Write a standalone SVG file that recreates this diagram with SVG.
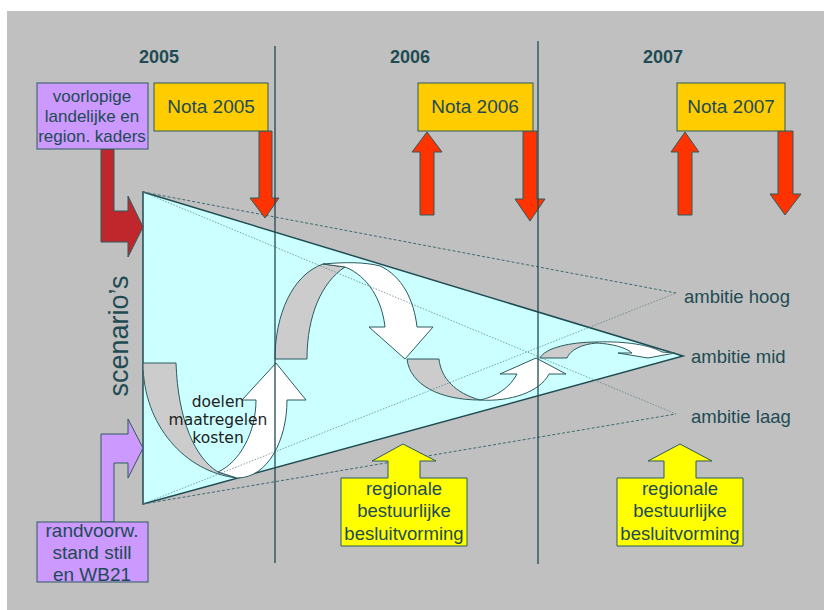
<svg xmlns="http://www.w3.org/2000/svg" width="824" height="610" viewBox="0 0 824 610">
<style>
.t{font-family:"Liberation Sans",Arial,sans-serif;fill:#1F4B53}
.yr{font-size:18px;font-weight:bold;text-anchor:middle}
.nota{font-size:19px;text-anchor:middle}
.box{stroke:#2D5A5F;stroke-width:1}
.red{fill:#FF3300;stroke:#2D5A5F;stroke-width:1}
.grayband{fill:#CCCCCC;stroke:#2D5A5F;stroke-width:1}
.whiteband{fill:#FFFFFF;stroke:#2D5A5F;stroke-width:1}
.dash{fill:none;stroke:#3F6A70;stroke-width:1;stroke-dasharray:3,2}
.thin{fill:none;stroke:#4F7A80;stroke-width:0.7;stroke-dasharray:1.5,1.5}
.vline{stroke:#1F4B53;stroke-width:1.3}
.amb{font-size:18.5px}
.ctr{text-anchor:middle}
.dk{font-family:"DejaVu Sans",Verdana,sans-serif;font-size:15.5px;fill:#222;text-anchor:middle}
</style>
<rect x="7" y="11" width="817" height="599" fill="#C0C0C0"/>

<g id="cone">
<polygon points="143,192 683,356 143,504" fill="#CCFFFF" stroke="#1F4B53" stroke-width="1.5"/>
</g>

<g id="cycle">
<path class="grayband" d="M143,363 L176,363 C178,420 195,458 218,472 L237,478 C185,472 143,425 143,363 Z"/>
<path class="whiteband" d="M218,472 L237,478 C268,478 287,440 287,400 L306,400 L276,363 L242,400 L256,400 C256,432 240,462 218,472 Z"/>
<path class="grayband" d="M275,359 L307,359 C307,315 322,282 345,267 L323,264 C292,275 275,315 275,359 Z"/>
<path class="whiteband" d="M323,264 C345,262 365,262 380,266 C402,276 414,300 417,327 L433,327 L405,359 L369,327 L385,327 C382,300 368,276 345,267 Z"/>
<path class="grayband" d="M407,359 L439,359 C441,378 455,393 480,400 C440,400 410,385 407,359 Z"/>
<path class="whiteband" d="M480,400 C510,402 540,392 549,374 L566,374 L536,358 L500,374 L517,374 C510,388 495,397 480,400 Z"/>
<path class="grayband" d="M540,358 L567,358 C570,350 582,344 597,343 L597,342 C570,342 545,348 540,358 Z"/>
<path class="whiteband" d="M597,342 C625,341 650,345 662,352 L675,353 L648,358 L618,353 L632,353 C625,347 612,344 597,343 Z"/>
<text class="dk" x="218" y="407">doelen</text>
<text class="dk" x="218" y="425">maatregelen</text>
<text class="dk" x="218" y="443">kosten</text>
</g>

<g id="connectors">
<line class="dash" x1="143" y1="192" x2="676" y2="293"/>
<line class="thin" x1="143" y1="504" x2="676" y2="293"/>
<line class="thin" x1="143" y1="192" x2="676" y2="414"/>
<line class="dash" x1="143" y1="504" x2="676" y2="414"/>
<polygon points="101,149 114,149 114,211 128,211 128,196 143,227 128,257 128,242 101,242" fill="#C0272D" stroke="#2D5A5F" stroke-width="1"/>
<polygon points="101,522 114,522 114,463 128,463 128,478 143,448 128,419 128,434 101,434" fill="#CC99FF" stroke="#2D5A5F" stroke-width="1"/>
<polygon class="red" points="259,131 272,131 272,198 279,198 265,218 250,198 259,198"/>
<polygon class="red" points="420,215 434,215 434,152 442,152 427,132 412,152 420,152"/>
<polygon class="red" points="523,131 537,131 537,199 545,199 530,221 515,199 523,199"/>
<polygon class="red" points="678,215 692,215 692,152 699,152 685,132 671,152 678,152"/>
<polygon class="red" points="778,131 793,131 793,194 801,194 785,215 770,194 778,194"/>
</g>

<g id="timeline">
<line class="vline" x1="275" y1="46" x2="275" y2="563"/>
<line class="vline" x1="538" y1="41" x2="538" y2="564"/>
<text class="t yr" x="159" y="63">2005</text>
<text class="t yr" x="410" y="63">2006</text>
<text class="t yr" x="663" y="63">2007</text>
</g>

<g id="kaders">
<rect class="box" x="37" y="83" width="111" height="66" fill="#CC99FF"/>
<text class="t ctr" font-size="17" x="92" y="102">voorlopige</text>
<text class="t ctr" font-size="17" x="92" y="122">landelijke en</text>
<text class="t ctr" font-size="17" x="92" y="142">region. kaders</text>
</g>

<g id="randvoorw">
<rect class="box" x="37" y="522" width="111" height="60" fill="#CC99FF"/>
<text class="t ctr" font-size="19" x="92" y="537">randvoorw.</text>
<text class="t ctr" font-size="19" x="92" y="559">stand still</text>
<text class="t ctr" font-size="19" x="92" y="581">en WB21</text>
</g>

<g id="nota2005">
<rect class="box" x="154" y="83" width="114" height="48" fill="#FFCC00"/>
<text class="t nota" x="211" y="113">Nota 2005</text>
</g>
<g id="nota2006">
<rect class="box" x="418" y="83" width="115" height="48" fill="#FFCC00"/>
<text class="t nota" x="475" y="113">Nota 2006</text>
</g>
<g id="nota2007">
<rect class="box" x="677" y="83" width="108" height="48" fill="#FFCC00"/>
<text class="t nota" x="731" y="113">Nota 2007</text>
</g>

<g id="scenarios">
<text class="t" font-size="27" text-anchor="middle" transform="translate(128,336) rotate(-90)">scenario’s</text>
</g>

<g id="ambitie">
<text class="t amb" x="684" y="303">ambitie hoog</text>
<text class="t amb" x="691" y="363">ambitie mid</text>
<text class="t amb" x="691" y="423">ambitie laag</text>
</g>

<g id="besluit1">
<polygon class="box" fill="#FFFF00" points="341,478 388,478 388,461 372,461 403,444 436,461 420,461 420,478 467,478 467,546 341,546"/>
<text class="t ctr" font-size="18.5" x="404" y="495">regionale</text>
<text class="t ctr" font-size="18.5" x="404" y="517">bestuurlijke</text>
<text class="t ctr" font-size="18.5" x="404" y="540">besluitvorming</text>
</g>
<g id="besluit2">
<polygon class="box" fill="#FFFF00" points="617,478 664,478 664,461 648,461 680,444 712,461 696,461 696,478 743,478 743,546 617,546"/>
<text class="t ctr" font-size="18.5" x="680" y="495">regionale</text>
<text class="t ctr" font-size="18.5" x="680" y="517">bestuurlijke</text>
<text class="t ctr" font-size="18.5" x="680" y="540">besluitvorming</text>
</g>
</svg>
